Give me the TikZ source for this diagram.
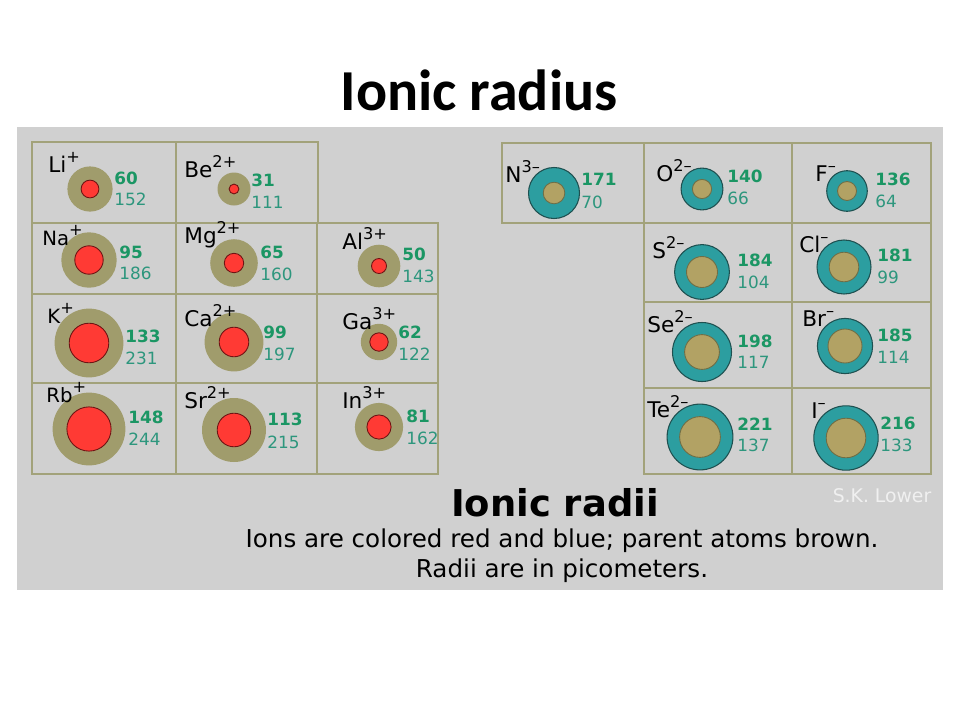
\documentclass[tikz,border=0pt]{standalone}
\usepackage{fontspec}
\setmainfont{DejaVu Sans}
\newfontfamily\titlefont{Carlito}
\newcommand\ionchg[1]{\raisebox{5.5pt}{\fontsize{9.2}{10}\selectfont #1}}
\definecolor{panel}{RGB}{208,208,208}
\definecolor{gridline}{RGB}{162,162,122}
\definecolor{atombrown}{RGB}{160,156,108}
\definecolor{cationred}{RGB}{255,58,52}
\definecolor{cationedge}{RGB}{110,20,20}
\definecolor{anionteal}{RGB}{44,158,160}
\definecolor{anionedge}{RGB}{30,80,80}
\definecolor{corebrown}{RGB}{178,162,100}
\definecolor{coreedge}{RGB}{110,110,70}
\definecolor{numbold}{RGB}{27,150,100}
\definecolor{numreg}{RGB}{45,150,125}
\begin{document}
\begin{tikzpicture}[x=0.02cm, y=-0.02cm,
    atom/.style={fill=atombrown},
    cation/.style={fill=cationred, draw=cationedge, line width=0.5pt},
    anion/.style={fill=anionteal, draw=anionedge, line width=0.6pt},
    core/.style={fill=corebrown, draw=coreedge, line width=0.5pt},
    symb/.style={anchor=base west, inner sep=0pt, font=\fontsize{12.3}{14}\selectfont},
    symbsmall/.style={symb, font=\fontsize{11.2}{13}\selectfont},
    ionr/.style={anchor=west, inner sep=0pt, text=numbold, font=\fontsize{9.6}{11}\selectfont\bfseries},
    atomr/.style={anchor=west, inner sep=0pt, text=numreg, font=\fontsize{9.6}{11}\selectfont},
    cell/.style={draw=gridline, line width=1pt}]
  \useasboundingbox (0,0) rectangle (960,720);
  \fill[panel] (17,127) rectangle (943,590);
  \node[anchor=base, font=\titlefont\bfseries\fontsize{33}{36}\selectfont] (title) at (479,110) {Ionic radius};

  % cation cells
  \draw[cell] (32,142) rectangle (318,223) (176,142) -- (176,223);
  \draw[cell] (32,223) rectangle (438,474) (32,294) -- (438,294) (32,383) -- (438,383)
    (176,223) -- (176,474) (317,223) -- (317,474);
  % anion cells
  \draw[cell] (502,143) rectangle (931,223) (644,143) -- (644,223) (792,143) -- (792,223);
  \draw[cell] (644,223) rectangle (931,474) (644,302) -- (931,302) (644,388) -- (931,388)
    (792,223) -- (792,474);

  % Li
  \fill[atom] (90,189) circle (22.6);
  \draw[cation] (90,189) circle (8.9);
  \node[symb] (li) at (48,172) {Li\ionchg{+}};
  \node[ionr] (li-ion) at (114,178) {60};
  \node[atomr] (li-atom) at (114,199) {152};
  % Be
  \fill[atom] (234,189) circle (16.5);
  \draw[cation] (234,189) circle (4.9);
  \node[symb] (be) at (184,177) {Be\ionchg{2+}};
  \node[ionr] (be-ion) at (251,180) {31};
  \node[atomr] (be-atom) at (251,202) {111};
  % Na
  \fill[atom] (89,260) circle (27.7);
  \draw[cation] (89,260) circle (14.2);
  \node[symbsmall] (na) at (42,245) {Na\ionchg{+}};
  \node[ionr] (na-ion) at (119,252) {95};
  \node[atomr] (na-atom) at (119,273) {186};
  % Mg
  \fill[atom] (234,263) circle (23.8);
  \draw[cation] (234,263) circle (9.7);
  \node[symb] (mg) at (184,243) {Mg\ionchg{2+}};
  \node[ionr] (mg-ion) at (260,252) {65};
  \node[atomr] (mg-atom) at (260,274) {160};
  % Al
  \fill[atom] (379,266) circle (21.3);
  \draw[cation] (379,266) circle (7.5);
  \node[symb] (al) at (342,249) {Al\ionchg{3+}};
  \node[ionr] (al-ion) at (402,254) {50};
  \node[atomr] (al-atom) at (402,276) {143};
  % K
  \fill[atom] (89,343) circle (34.4);
  \draw[cation] (89,343) circle (19.8);
  \node[symbsmall] (k) at (47,323) {K\ionchg{+}};
  \node[ionr] (k-ion) at (125,336) {133};
  \node[atomr] (k-atom) at (125,358) {231};
  % Ca
  \fill[atom] (234,342) circle (29.4);
  \draw[cation] (234,342) circle (14.8);
  \node[symb] (ca) at (184,326) {Ca\ionchg{2+}};
  \node[ionr] (ca-ion) at (263,332) {99};
  \node[atomr] (ca-atom) at (263,354) {197};
  % Ga
  \fill[atom] (379,342) circle (18.2);
  \draw[cation] (379,342) circle (9.2);
  \node[symb] (ga) at (342,329) {Ga\ionchg{3+}};
  \node[ionr] (ga-ion) at (398,332) {62};
  \node[atomr] (ga-atom) at (398,354) {122};
  % Rb
  \fill[atom] (89,429) circle (36.4);
  \draw[cation] (89,429) circle (22.1);
  \node[symbsmall] (rb) at (46,402) {Rb\ionchg{+}};
  \node[ionr] (rb-ion) at (128,417) {148};
  \node[atomr] (rb-atom) at (128,439) {244};
  % Sr
  \fill[atom] (234,430) circle (32.0);
  \draw[cation] (234,430) circle (16.8);
  \node[symb] (sr) at (184,408) {Sr\ionchg{2+}};
  \node[ionr] (sr-ion) at (267,419) {113};
  \node[atomr] (sr-atom) at (267,442) {215};
  % In
  \fill[atom] (379,427) circle (24.1);
  \draw[cation] (379,427) circle (12.1);
  \node[symb] (in) at (342,408) {In\ionchg{3+}};
  \node[ionr] (in-ion) at (406,416) {81};
  \node[atomr] (in-atom) at (406,438) {162};

  % N
  \draw[anion] (554,193) circle (25.5);
  \draw[core] (554,193) circle (10.8);
  \node[symb] (n) at (505,182) {N\ionchg{3–}};
  \node[ionr] (n-ion) at (581,179) {171};
  \node[atomr] (n-atom) at (581,202) {70};
  % O
  \draw[anion] (702,189) circle (20.9);
  \draw[core] (702,189) circle (9.6);
  \node[symb] (o) at (656,181) {O\ionchg{2–}};
  \node[ionr] (o-ion) at (727,176) {140};
  \node[atomr] (o-atom) at (727,198) {66};
  % F
  \draw[anion] (847,191) circle (20.3);
  \draw[core] (847,191) circle (9.5);
  \node[symb] (f) at (815,181) {F\ionchg{–}};
  \node[ionr] (f-ion) at (875,179) {136};
  \node[atomr] (f-atom) at (875,201) {64};
  % S
  \draw[anion] (702,272) circle (27.4);
  \draw[core] (702,272) circle (15.5);
  \node[symb] (s) at (652,258) {S\ionchg{2–}};
  \node[ionr] (s-ion) at (737,260) {184};
  \node[atomr] (s-atom) at (737,282) {104};
  % Cl
  \draw[anion] (844,267) circle (27.0);
  \draw[core] (844,267) circle (14.8);
  \node[symb] (cl) at (799,252) {Cl\ionchg{–}};
  \node[ionr] (cl-ion) at (877,255) {181};
  \node[atomr] (cl-atom) at (877,277) {99};
  % Se
  \draw[anion] (702,352) circle (29.5);
  \draw[core] (702,352) circle (17.4);
  \node[symb] (se) at (647,332) {Se\ionchg{2–}};
  \node[ionr] (se-ion) at (737,341) {198};
  \node[atomr] (se-atom) at (737,362) {117};
  % Br
  \draw[anion] (845,346) circle (27.6);
  \draw[core] (845,346) circle (17.0);
  \node[symb] (br) at (802,326) {Br\ionchg{–}};
  \node[ionr] (br-ion) at (877,335) {185};
  \node[atomr] (br-atom) at (877,357) {114};
  % Te
  \draw[anion] (700,437) circle (32.9);
  \draw[core] (700,437) circle (20.4);
  \node[symb] (te) at (647,417) {Te\ionchg{2–}};
  \node[ionr] (te-ion) at (737,424) {221};
  \node[atomr] (te-atom) at (737,445) {137};
  % I
  \draw[anion] (846,438) circle (32.2);
  \draw[core] (846,438) circle (19.8);
  \node[symb] (i) at (811,418) {I\ionchg{–}};
  \node[ionr] (i-ion) at (880,423) {216};
  \node[atomr] (i-atom) at (880,445) {133};

  % caption
  \node[font=\bfseries\fontsize{21}{24}\selectfont] (caption) at (555,503) {Ionic radii};
  \node[font=\fontsize{14}{16}\selectfont] (note1) at (562,541) {Ions are colored red and blue; parent atoms brown.};
  \node[font=\fontsize{14}{16}\selectfont] (note2) at (562,571) {Radii are in picometers.};
  \node[text=white!94!black, font=\fontsize{10.7}{12}\selectfont] (credit) at (882,496) {S.K. Lower};
\end{tikzpicture}
\end{document}
